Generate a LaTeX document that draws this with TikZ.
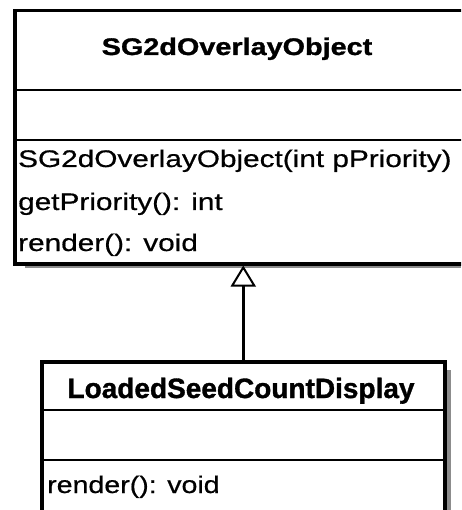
\documentclass[tikz,border=0pt]{standalone}
\usepackage{fontspec}
\setmainfont{Liberation Sans}
\usetikzlibrary{arrows.meta}
\begin{document}
\begin{tikzpicture}[x=1pt,y=-1pt,
  box/.style={draw=black, line width=3.5pt, fill=white, inner sep=0pt},
  sep/.style={line width=2.5pt},
  shade/.style={fill=black!45, draw=none},
  titletop/.style={anchor=base, inner sep=0pt, font=\fontsize{24}{28}\selectfont\bfseries\addfontfeatures{FakeStretch=1.2,FakeBold=1.2}},
  titlesub/.style={anchor=base, inner sep=0pt, font=\fontsize{28}{32}\selectfont\bfseries\addfontfeatures{FakeStretch=1.0,FakeBold=1.2}},
  optop/.style={anchor=base west, inner sep=0pt, font=\fontsize{24}{28}\selectfont\addfontfeatures{FakeStretch=1.24,FakeBold=0.6}},
  opsub/.style={anchor=base west, inner sep=0pt, font=\fontsize{24}{28}\selectfont\addfontfeatures{FakeStretch=1.19,FakeBold=0.6}},
  inherit/.style={line width=2.5pt, -{Triangle[open, length=21pt, width=25pt, line width=2pt]}}
]
\useasboundingbox (0,0) rectangle (461,510);
\fill[white] (0,0) rectangle (461,510);
\clip (0,0) rectangle (461,510);
% shadows
\fill[shade] (25,263) rectangle (461,268);
\fill[shade] (445,370) rectangle (451,515);
% superclass
\node[box, minimum width=450pt, minimum height=253pt, anchor=north west] (sup) at (13,9) {};
\draw[sep] (13,90) -- (463,90);
\draw[sep] (13,140) -- (463,140);
\node[titletop] (suptitle) at (237,55) {SG2dOverlayObject};
\node[optop] (supop1) at (18,167) {SG2dOverlayObject(int pPriority)};
\node[optop] (supop2) at (18,210) {getPriority(): int};
\node[optop] (supop3) at (18,251) {render(): void};
% subclass
\node[box, minimum width=403pt, minimum height=170pt, anchor=north west] (sub) at (40,360) {};
\draw[sep] (40,410) -- (443,410);
\draw[sep] (40,460) -- (443,460);
\node[titlesub] (subtitle) at (241,398) {LoadedSeedCountDisplay};
\node[opsub] (subop1) at (47,493) {render(): void};
% generalization
\draw[inherit] (sub.north) -- (sub.north |- sup.south);
\end{tikzpicture}
\end{document}
